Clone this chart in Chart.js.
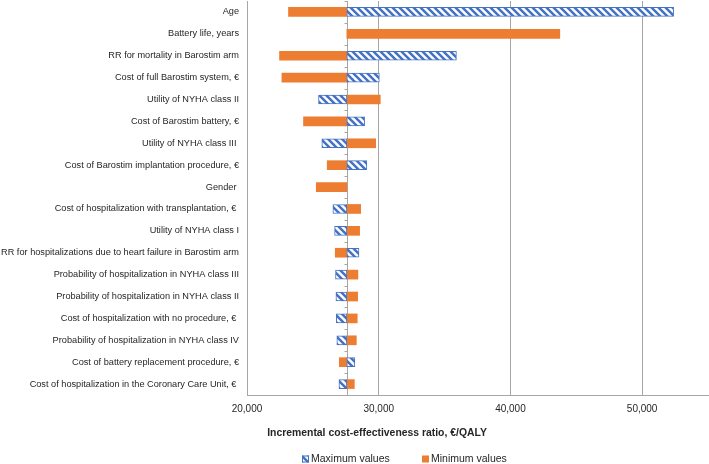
<!DOCTYPE html>
<html><head><meta charset="utf-8">
<script src="https://cdn.jsdelivr.net/npm/chart.js@4.4.1/dist/chart.umd.min.js"></script>
<style>html,body{margin:0;padding:0;background:#fff;overflow:hidden}</style>
</head><body>
<canvas id="c" width="709" height="464" style="display:block;width:709px;height:464px"></canvas>
<script>
const categories = [
  "Age",
  "Battery life, years",
  "RR for mortality in Barostim arm",
  "Cost of full Barostim system, €",
  "Utility of NYHA class II",
  "Cost of Barostim battery, €",
  "Utility of NYHA class III ",
  "Cost of Barostim implantation procedure, €",
  "Gender ",
  "Cost of hospitalization with transplantation, € ",
  "Utility of NYHA class I",
  "RR for hospitalizations due to heart failure in Barostim arm",
  "Probability of hospitalization in NYHA class III",
  "Probability of hospitalization in NYHA class II",
  "Cost of hospitalization with no procedure, € ",
  "Probability of hospitalization in NYHA class IV",
  "Cost of battery replacement procedure, €",
  "Cost of hospitalization in the Coronary Care Unit, € "
];
const maxValues = [52390, null, 35900, 30050, 25430, 28930, 25680, 29100, null, 26520, 26650, 28500, 26720, 26750, 26780, 26820, 28190, 26980];
const minValues = [23150, 43750, 22470, 22650, 30120, 24290, 29770, 26090, 25260, 28630, 28550, 26700, 28420, 28400, 28370, 28300, 27010, 28150];
const baseValue = 27580;
const xTicks = [20000, 30000, 40000, 50000];
const xMin = 20000, xMax = 55000;
const seriesNames = ["Maximum values", "Minimum values"];
const axisTitle = "Incremental cost-effectiveness ratio, €/QALY";

const BLUE = '#4472C4', ORANGE = '#ED7D31', GRID = '#A6A6A6', TEXT = '#262626';
const FONT = '"Liberation Sans", Arial, sans-serif';

const canvas = document.getElementById('c');
const ctx = canvas.getContext('2d');

function makeHatch(context) {
  const p = 7;
  const c = document.createElement('canvas');
  c.width = p; c.height = p;
  const g = c.getContext('2d');
  g.fillStyle = '#fff'; g.fillRect(0, 0, p, p);
  g.strokeStyle = BLUE; g.lineWidth = 2.5;
  g.beginPath();
  for (const k of [-p, 0, p]) { g.moveTo(k - 1, -1); g.lineTo(k + p + 1, p + 1); }
  g.stroke();
  return context.createPattern(c, 'repeat');
}
const hatch = makeHatch(ctx);
const toRange = v => (v == null ? null : [baseValue, v]);

const shiftPlugin = {
  id: 'shiftTitle',
  afterLayout(chart) {
    const t = chart.titleBlock;
    if (t) { const dx = 377 - (t.left + t.right) / 2; t.left += dx; t.right += dx; }
  }
};

const basePlugin = {
  id: 'baseLine',
  beforeDatasetsDraw(chart) {
    const { ctx, chartArea: a, scales: { x, y } } = chart;
    const px = Math.round(x.getPixelForValue(baseValue)) + 0.5;
    ctx.save();
    ctx.strokeStyle = GRID; ctx.lineWidth = 1;
    ctx.beginPath();
    ctx.moveTo(px, a.top); ctx.lineTo(px, a.bottom);
    for (let i = 0; i <= categories.length; i++) {
      const yy = Math.round(y.getPixelForValue(i - 0.5)) + 0.5;
      ctx.moveTo(px - 3, yy); ctx.lineTo(px, yy);
    }
    ctx.stroke();
    ctx.restore();
  }
};

const legendPlugin = {
  id: 'customLegend',
  afterDraw(chart) {
    const c = chart.ctx;
    const y = 459;
    const items = [
      { x: 302, fill: hatch, stroke: BLUE, text: seriesNames[0] },
      { x: 422, fill: ORANGE, stroke: null, text: seriesNames[1] }
    ];
    c.save();
    c.font = '10.5px ' + FONT;
    c.textBaseline = 'middle';
    for (const it of items) {
      c.fillStyle = it.fill;
      c.fillRect(it.x, y - 3.5, 7, 7);
      if (it.stroke) { c.strokeStyle = it.stroke; c.lineWidth = 1; c.strokeRect(it.x + 0.5, y - 3, 6, 6); }
      c.fillStyle = TEXT;
      c.fillText(it.text, it.x + 9, y);
    }
    c.restore();
  }
};

new Chart(ctx, {
  type: 'bar',
  data: {
    labels: categories,
    datasets: [
      { label: seriesNames[0], data: maxValues.map(toRange), backgroundColor: hatch, borderColor: BLUE,
        borderWidth: 1, borderSkipped: false, barThickness: 9, grouped: false },
      { label: seriesNames[1], data: minValues.map(toRange), backgroundColor: ORANGE,
        borderWidth: 0, borderSkipped: false, barThickness: 9, grouped: false }
    ]
  },
  options: {
    indexAxis: 'y',
    responsive: false,
    animation: false,
    devicePixelRatio: 1,
    layout: { padding: { top: 1, right: 1, bottom: 17.5, left: 0 } },
    scales: {
      x: {
        type: 'linear', min: xMin, max: xMax,
        afterBuildTicks: s => { s.ticks = xTicks.map(v => ({ value: v })); },
        ticks: { padding: 8, color: TEXT, font: { family: FONT, size: 10 }, maxRotation: 0,
          callback: v => Number(v).toLocaleString('en-US') },
        grid: { color: GRID, drawTicks: false },
        border: { display: true, color: GRID },
        afterFit: s => { s.paddingLeft = 0; s.paddingRight = 0; }
      },
      y: {
        grid: { display: false, drawTicks: false },
        border: { display: true, color: GRID },
        ticks: { padding: 8, color: TEXT, font: { family: FONT, size: 9.2 }, autoSkip: false },
        afterFit: s => { s.width = 247; s.paddingTop = 0; s.paddingBottom = 0; }
      }
    },
    plugins: {
      legend: { display: false },
      tooltip: { enabled: false },
      title: { display: true, position: 'bottom', text: axisTitle, color: TEXT,
        font: { family: FONT, size: 10.4, weight: 'bold', lineHeight: 1.2 },
        padding: { top: 4, bottom: 7 } }
    }
  },
  plugins: [shiftPlugin, basePlugin, legendPlugin]
});
</script>
</body></html>
